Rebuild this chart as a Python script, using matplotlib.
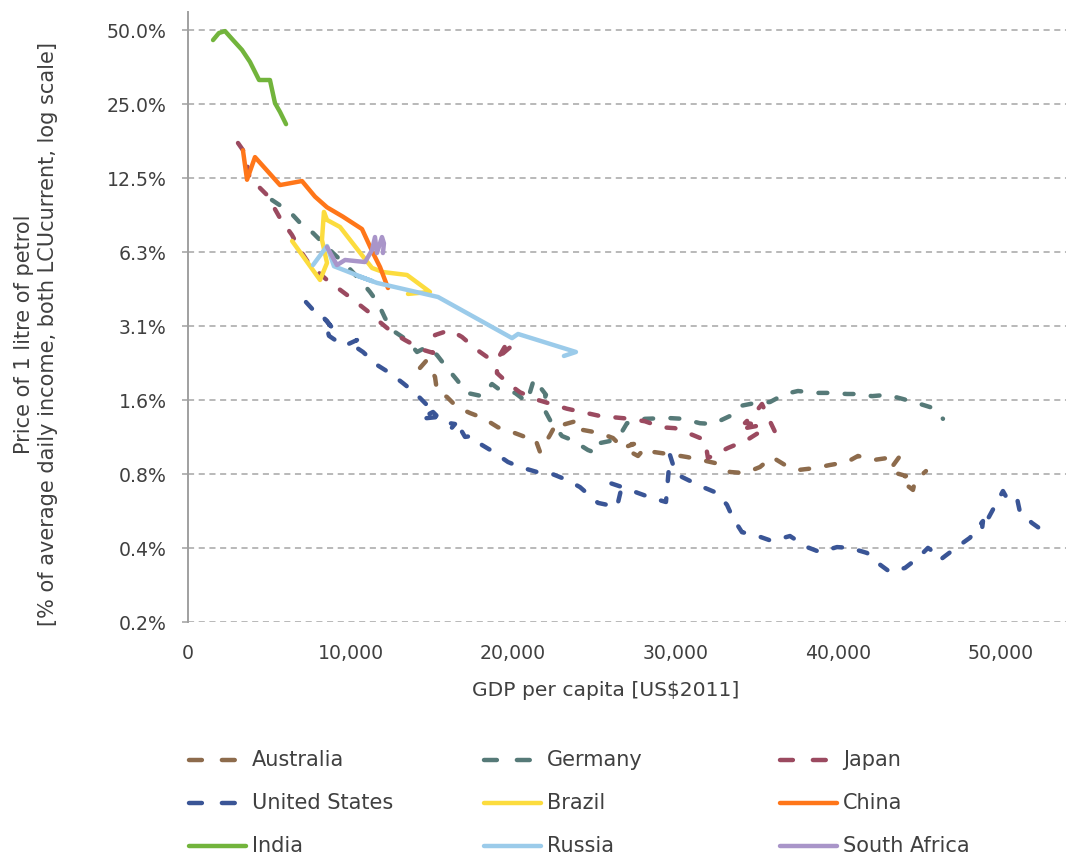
import matplotlib
matplotlib.use("Agg")
import matplotlib.pyplot as plt
from matplotlib.lines import Line2D
from matplotlib.ticker import FixedLocator, NullLocator

# ---------------------------------------------------------------------------
# Data: GDP per capita [US$2011] vs. price of 1 litre of petrol
# [% of average daily income]
# ---------------------------------------------------------------------------
countries = ["Australia", "Germany", "Japan", "United States",
             "Brazil", "China", "India", "Russia", "South Africa"]

australia_gdp = [14268, 14637, 15191, 15314, 15929, 16544, 17343, 18143, 19065, 19926,
                 20726, 21341, 21648, 22263, 22694, 23001, 24108, 24293, 25338, 26138,
                 26568, 27429, 26753, 27675, 28106, 28598, 29951, 30689, 31611, 32411,
                 33333, 34256, 35178, 35916, 36716, 37515, 38561, 39483, 40529, 41205,
                 42128, 42989, 43788, 43112, 44157, 43788, 44588, 44711, 45387]
australia_price = [2.11, 2.25, 1.94, 1.70, 1.607, 1.463, 1.383, 1.32, 1.21, 1.158,
                   1.106, 1.094, 0.961, 1.125, 1.27, 1.236, 1.296, 1.18, 1.146, 1.094,
                   1.025, 1.035, 0.998, 0.925, 0.998, 0.961, 0.933, 0.916, 0.890, 0.866,
                   0.796, 0.788, 0.834, 0.916, 0.850, 0.811, 0.826, 0.850, 0.874, 0.925,
                   0.890, 0.907, 0.925, 0.803, 0.767, 0.739, 0.673, 0.732, 0.803]

germany_gdp = [5166, 6273, 7011, 7688, 8918, 9840, 10578, 11193, 11685, 12116,
               12546, 13469, 14084, 14699, 15314, 15929, 16544, 17159, 18081, 18696,
               19188, 20111, 20849, 21279, 22017, 21771, 22263, 23001, 23616, 24600,
               25092, 25338, 25953, 26568, 26999, 28106, 29520, 30443, 31488, 32288,
               33333, 33948, 34871, 35793, 36716, 37515, 38561, 39483, 40529, 41328,
               42066, 42989, 43973, 44834, 45818, 46433]
germany_price = [10.17, 9.09, 8.05, 7.47, 6.19, 5.43, 4.81, 4.30, 3.875, 3.37,
                 3.01, 2.74, 2.45, 2.57, 2.38, 2.11, 1.885, 1.67, 1.62, 1.815,
                 1.716, 1.67, 1.533, 1.90, 1.64, 1.49, 1.296, 1.115, 1.074, 0.978,
                 0.950, 1.044, 1.064, 1.125, 1.257, 1.31, 1.32, 1.31, 1.257, 1.248,
                 1.345, 1.477, 1.519, 1.533, 1.653, 1.70, 1.67, 1.67, 1.653, 1.653,
                 1.62, 1.64, 1.577, 1.519, 1.45, 1.31]

japan_gdp = [3075, 3505, 3813, 4120, 4858, 5658, 6396, 6888, 7503, 8548,
             9778, 11193, 11808, 12607, 13345, 14452, 15067, 15190, 16113, 16851,
             17773, 18388, 19188, 19987, 19680, 19003, 19003, 19803, 20418, 21525,
             23308, 25338, 27183, 28105, 29151, 29950, 31057, 31795, 31980, 33210,
             34378, 35055, 34255, 35301, 34255, 34870, 35301, 35608, 36285]
japan_price = [17.35, 15.8, 12.26, 11.93, 10.66, 8.59, 7.33, 6.37, 5.53, 4.81,
               4.18, 3.53, 3.24, 2.93, 2.74, 2.50, 2.43, 2.87, 3.01, 2.82,
               2.50, 2.34, 2.36, 2.62, 2.71, 2.27, 2.01, 1.80, 1.68, 1.5625,
               1.44, 1.345, 1.31, 1.28, 1.21, 1.20, 1.125, 1.074, 0.907, 0.997,
               1.074, 1.146, 1.20, 1.236, 1.26, 1.383, 1.505, 1.358, 1.094]

us_gdp = [7257, 7749, 8549, 9102, 8364, 8672, 9594, 10394, 9963, 10763,
          11624, 12423, 13223, 13961, 14699, 15252, 14268, 15068, 15683, 16421,
          16113, 16728, 17036, 17466, 18081, 18696, 19680, 20418, 21464, 22263,
          23309, 24108, 25215, 26384, 26630, 25953, 26876, 27675, 28536, 29397,
          29643, 30012, 30750, 31673, 32534, 33149, 33518, 34071, 34871, 35916,
          37023, 38069, 38868, 39914, 40713, 41759, 42435, 43173, 44096, 44895,
          45510, 45941, 46248, 46556, 47294, 48093, 48893, 48831, 50123, 50430,
          50984, 51168, 51906, 52706]
us_price = [3.91, 3.60, 3.275, 2.93, 3.37, 2.85, 2.59, 2.74, 2.66, 2.45,
            2.17, 2.01, 1.83, 1.67, 1.49, 1.33, 1.31, 1.397, 1.27, 1.248,
            1.18, 1.20, 1.106, 1.115, 1.025, 0.969, 0.874, 0.834, 0.796, 0.788,
            0.739, 0.691, 0.596, 0.574, 0.673, 0.718, 0.685, 0.654, 0.624, 0.601,
            0.933, 0.781, 0.739, 0.691, 0.654, 0.585, 0.517, 0.453, 0.441, 0.417,
            0.437, 0.394, 0.376, 0.394, 0.391, 0.373, 0.339, 0.312, 0.324, 0.356,
            0.391, 0.373, 0.349, 0.362, 0.394, 0.430, 0.503, 0.463, 0.666, 0.612,
            0.624, 0.547, 0.494, 0.453]

brazil_gdp = [6400, 8120, 8550, 8240, 8360, 8550, 9350, 10450, 11320, 12000,
              13470, 14880, 13530]
brazil_price = [6.93, 4.81, 5.64, 7.0, 9.1, 8.44, 7.9, 6.37, 5.38, 5.18,
                5.04, 4.30, 4.22]

china_gdp = [3380, 3630, 4120, 5660, 7010, 7810, 8550, 9530, 10700, 11380,
             11810, 12300]
china_price = [16.2, 12.3, 15.2, 11.7, 12.15, 10.5, 9.5, 8.7, 7.75, 6.19,
               5.43, 4.46]

india_gdp = [1540, 1900, 2275, 2770, 3320, 3810, 4370, 5040, 5350, 5660, 6030]
india_price = [45.5, 48.6, 49.5, 45.5, 41.5, 37.1, 31.3, 31.3, 25.2, 23.2, 20.7]

russia_gdp = [7690, 8550, 8980, 11320, 10460, 11620, 15380, 19930, 20300, 23860,
              23120]
russia_price = [5.53, 6.61, 5.47, 4.76, 4.99, 4.68, 4.10, 2.79, 2.90, 2.45,
                2.36]

south_africa_gdp = [8550, 9160, 9660, 10890, 11320, 11500, 11620, 11930, 12050, 11990]
south_africa_price = [6.55, 5.53, 5.8, 5.69, 6.37, 7.19, 6.19, 7.19, 6.78, 6.19]

y_ticks = [0.1953125, 0.390625, 0.78125, 1.5625, 3.125, 6.25, 12.5, 25.0, 50.0]
y_tick_labels = ["0.2%", "0.4%", "0.8%", "1.6%", "3.1%", "6.3%", "12.5%", "25.0%", "50.0%"]
x_ticks = [0, 10000, 20000, 30000, 40000, 50000]
x_tick_labels = ["0", "10,000", "20,000", "30,000", "40,000", "50,000"]

# ---------------------------------------------------------------------------
# Styling
# ---------------------------------------------------------------------------
series = {
    "Australia":     (australia_gdp, australia_price, "#8D6B4C", True),
    "Germany":       (germany_gdp, germany_price, "#567A78", True),
    "Japan":         (japan_gdp, japan_price, "#9B4A60", True),
    "United States": (us_gdp, us_price, "#3A5596", True),
    "Brazil":        (brazil_gdp, brazil_price, "#FCDC3E", False),
    "China":         (china_gdp, china_price, "#FF7619", False),
    "India":         (india_gdp, india_price, "#72B43C", False),
    "Russia":        (russia_gdp, russia_price, "#9BCBEA", False),
    "South Africa":  (south_africa_gdp, south_africa_price, "#A995C9", False),
}

TEXT = "#404040"
GRID = "#A6A6A6"
LW = 3.2
DASH = (0, (2.0, 3.9))

plt.rcParams["font.family"] = ["DejaVu Sans"]

W, H = 1069, 857
fig = plt.figure(figsize=(W / 100, H / 100), dpi=100)
fig.patch.set_facecolor("white")


def fx(px):
    return px / W


def fy(py):
    return 1 - py / H


ax_left, ax_right, ax_top, ax_bottom = 188, 1066, 12, 622
ax = fig.add_axes([fx(ax_left), fy(ax_bottom), (ax_right - ax_left) / W,
                   (ax_bottom - ax_top) / H])

ax.set_yscale("log", base=2)
ax.set_xlim(0, 54000)
ax.set_ylim(50.0 / 256, 50.0 * 2 ** (18 / 74))

for name in countries:
    gdp, price, color, dashed = series[name]
    ax.plot(gdp, price, color=color, linewidth=LW,
            linestyle=DASH if dashed else "-",
            dash_capstyle="round", solid_capstyle="round",
            solid_joinstyle="round", zorder=3)

# axes decoration
ax.yaxis.set_major_locator(FixedLocator(y_ticks))
ax.yaxis.set_minor_locator(NullLocator())
ax.set_yticklabels(y_tick_labels)
ax.set_xticks(x_ticks)
ax.set_xticklabels(x_tick_labels)
ax.xaxis.set_minor_locator(NullLocator())

ax.grid(True, axis="y", color=GRID, linestyle=(0, (4.0, 3.0)), linewidth=1.1, zorder=1)
ax.set_axisbelow(True)

for side in ("top", "right", "bottom"):
    ax.spines[side].set_visible(False)
ax.spines["left"].set_color("#A0A0A0")
ax.spines["left"].set_linewidth(1.4)

ax.tick_params(axis="y", which="major", length=4.5, width=1.1, color="#A0A0A0",
               pad=11, labelsize=13.6, labelcolor=TEXT)
ax.tick_params(axis="x", which="major", length=0, pad=16, labelsize=13.6,
               labelcolor=TEXT)

fig.text(fx(606), fy(690), "GDP per capita [US$2011]", ha="center", va="center",
         fontsize=14.6, color=TEXT)
fig.text(fx(36), fy(334),
         "Price of 1 litre of petrol\n[% of average daily income, both LCUcurrent, log scale]",
         ha="center", va="center", rotation=90, fontsize=15.0, color=TEXT,
         linespacing=1.3, multialignment="center")

# legend, three columns laid out row by row
legend_cols = [187, 482, 778]
legend_rows = [760, 803, 846]
for i, name in enumerate(countries):
    _, _, color, dashed = series[name]
    col, row = i % 3, i // 3
    x0 = legend_cols[col]
    y0 = legend_rows[row]
    if dashed:
        handle = Line2D([fx(x0 + 2), fx(x0 + 48)], [fy(y0), fy(y0)], color=color,
                        linewidth=LW, linestyle=(0, (2.9, 4.5)),
                        dash_capstyle="round", transform=fig.transFigure)
    else:
        handle = Line2D([fx(x0 + 2), fx(x0 + 59)], [fy(y0), fy(y0)], color=color,
                        linewidth=LW, solid_capstyle="round",
                        transform=fig.transFigure)
    fig.add_artist(handle)
    fig.text(fx(x0 + 65), fy(y0), name, ha="left", va="center", fontsize=15.0,
             color=TEXT)

fig.savefig("out.png", dpi=100, facecolor="white")
